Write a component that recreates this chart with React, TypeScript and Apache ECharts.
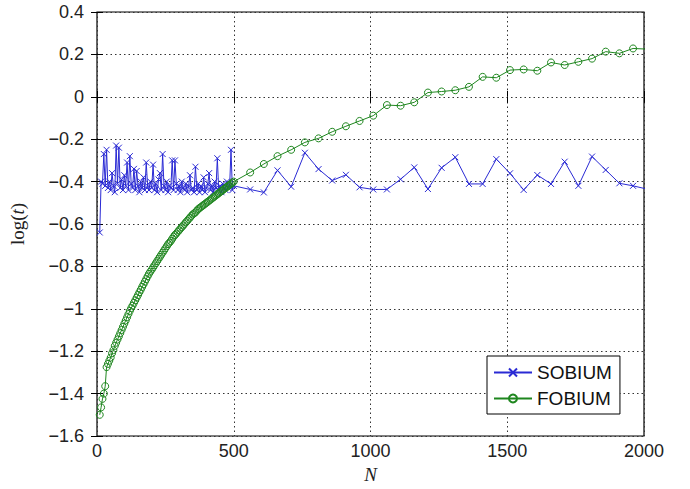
import React, { useEffect, useRef } from "react";
import * as echarts from "echarts";

const X_TICKS = [0, 500, 1000, 1500, 2000];
const Y_TICKS = [-1.6, -1.4, -1.2, -1, -0.8, -0.6, -0.4, -0.2, 0, 0.2, 0.4];

const N_DENSE = [
  10, 15, 20, 25, 30, 35, 40, 45, 50, 55,
  60, 65, 70, 75, 80, 85, 90, 95, 100, 105,
  110, 115, 120, 125, 130, 135, 140, 145, 150, 155,
  160, 165, 170, 175, 180, 185, 190, 195, 200, 205,
  210, 215, 220, 225, 230, 235, 240, 245, 250, 255,
  260, 265, 270, 275, 280, 285, 290, 295, 300, 305,
  310, 315, 320, 325, 330, 335, 340, 345, 350, 355,
  360, 365, 370, 375, 380, 385, 390, 395, 400, 405,
  410, 415, 420, 425, 430, 435, 440, 445, 450, 455,
  460, 465, 470, 475, 480, 485, 490, 495, 500];
const N_SPARSE = [560, 610, 660, 710, 760, 810, 860, 910, 960, 1010, 1060, 1110, 1160, 1210, 1260, 1310,
  1360, 1410, 1460, 1510, 1560, 1610, 1660, 1710, 1760, 1810, 1860, 1910, 1960, 2010];

const SOBIUM_DENSE = [
  -0.64, -0.40, -0.41, -0.27, -0.42, -0.25, -0.43, -0.40, -0.44, -0.36,
  -0.42, -0.45, -0.23, -0.41, -0.24, -0.43, -0.39, -0.44, -0.37, -0.42,
  -0.31, -0.44, -0.28, -0.41, -0.43, -0.34, -0.44, -0.35, -0.42, -0.45,
  -0.40, -0.43, -0.38, -0.44, -0.31, -0.42, -0.44, -0.40, -0.43, -0.32,
  -0.44, -0.41, -0.45, -0.39, -0.36, -0.44, -0.27, -0.42, -0.44, -0.40,
  -0.45, -0.42, -0.43, -0.30, -0.44, -0.30, -0.41, -0.44, -0.42, -0.45,
  -0.40, -0.43, -0.44, -0.41, -0.45, -0.42, -0.37, -0.44, -0.43, -0.45,
  -0.33, -0.44, -0.41, -0.45, -0.42, -0.44, -0.38, -0.45, -0.43, -0.41,
  -0.36, -0.44, -0.42, -0.45, -0.40, -0.43, -0.29, -0.44, -0.42, -0.45,
  -0.41, -0.43, -0.44, -0.40, -0.43, -0.42, -0.25, -0.44, -0.42];
const SOBIUM_SPARSE = [-0.437, -0.451, -0.347, -0.424, -0.264, -0.341, -0.395, -0.368, -0.427, -0.437,
  -0.437, -0.389, -0.333, -0.435, -0.335, -0.285, -0.411, -0.411, -0.294, -0.361,
  -0.439, -0.369, -0.411, -0.306, -0.420, -0.282, -0.345, -0.408, -0.420, -0.435];

const FOBIUM_DENSE = [
  -1.50, -1.465, -1.425, -1.40, -1.365, -1.275, -1.26, -1.245, -1.23, -1.21,
  -1.195, -1.175, -1.16, -1.145, -1.13, -1.115, -1.10, -1.085, -1.07, -1.055,
  -1.04, -1.025, -1.01, -0.997, -0.985, -0.972, -0.96, -0.947, -0.935, -0.922,
  -0.91, -0.897, -0.885, -0.872, -0.86, -0.847, -0.835, -0.825, -0.815, -0.805,
  -0.795, -0.785, -0.775, -0.765, -0.755, -0.745, -0.735, -0.725, -0.715, -0.705,
  -0.695, -0.688, -0.68, -0.67, -0.66, -0.652, -0.645, -0.637, -0.63, -0.622,
  -0.615, -0.607, -0.60, -0.592, -0.585, -0.577, -0.57, -0.562, -0.555, -0.55,
  -0.545, -0.537, -0.53, -0.525, -0.52, -0.515, -0.51, -0.505, -0.50, -0.495,
  -0.49, -0.485, -0.48, -0.475, -0.47, -0.465, -0.46, -0.455, -0.45, -0.445,
  -0.44, -0.435, -0.43, -0.425, -0.42, -0.415, -0.41, -0.405, -0.40];
const FOBIUM_SPARSE = [-0.357, -0.317, -0.28, -0.25, -0.215, -0.196, -0.165, -0.139, -0.114, -0.089,
  -0.039, -0.042, -0.026, 0.020, 0.025, 0.031, 0.047, 0.094, 0.090, 0.126,
  0.129, 0.123, 0.162, 0.150, 0.165, 0.180, 0.213, 0.205, 0.228, 0.225];

const BLUE = "#2a2ad4";
const GREEN = "#1e861e";
const SANS = "'Liberation Sans', Arial, Helvetica, sans-serif";
const SERIF = "'Liberation Serif', 'Times New Roman', serif";

export default function App() {
  const ref = useRef<HTMLDivElement>(null);
  useEffect(() => {
    if (!ref.current) return;
    const chart = echarts.init(ref.current, undefined, { renderer: "svg" });
    const sob = [
      ...N_DENSE.map((n, i) => [n, SOBIUM_DENSE[i]]),
      ...N_SPARSE.map((n, i) => [n, SOBIUM_SPARSE[i]]),
    ];
    const fob = [
      ...N_DENSE.map((n, i) => [n, FOBIUM_DENSE[i]]),
      ...N_SPARSE.map((n, i) => [n, FOBIUM_SPARSE[i]]),
    ];
    const fmtY = (v: number) => {
      const s = String(Number(v.toFixed(1)));
      return s.replace("-", "\u2212");
    };
    const fmtX = (v: number) => String(Math.round(v));
    const tickStyle = { show: true, inside: true, length: 6, lineStyle: { color: "#000", width: 1 } };
    const commonX = {
      min: X_TICKS[0],
      max: X_TICKS[X_TICKS.length - 1],
      interval: X_TICKS[1] - X_TICKS[0],
    };
    const commonY = {
      min: Y_TICKS[0],
      max: Y_TICKS[Y_TICKS.length - 1],
      interval: 0.2,
    };
    chart.setOption({
      animation: false,
      backgroundColor: "#fff",
      grid: {
        left: 95.5,
        right: 46,
        top: 12,
        bottom: 53,
        show: true,
        borderColor: "#000",
        borderWidth: 1.2,
        backgroundColor: "transparent",
      },
      legend: {
        orient: "vertical",
        left: 487,
        top: 356,
        padding: [7, 8, 6, 6],
        itemGap: 7,
        itemWidth: 38,
        itemHeight: 10,
        borderColor: "#000",
        borderWidth: 1,
        borderRadius: 0,
        backgroundColor: "#fff",
        textStyle: { fontFamily: SANS, fontSize: 19, color: "#111" },
        data: ["SOBIUM", "FOBIUM"],
      },
      xAxis: [
        {
          type: "value",
          ...commonX,
          position: "bottom",
          name: "N",
          nameLocation: "middle",
          nameGap: 25,
          nameTextStyle: { fontFamily: SERIF, fontStyle: "italic", fontSize: 19, color: "#222" },
          axisLine: { show: false },
          axisTick: tickStyle,
          axisLabel: { fontFamily: SANS, fontSize: 18, color: "#222", margin: 6, formatter: fmtX },
          splitLine: { show: true, lineStyle: { color: "#333", type: [1.5, 3], width: 1 } },
        },
        {
          type: "value",
          ...commonX,
          position: "top",
          axisLine: { show: false },
          axisTick: tickStyle,
          axisLabel: { show: false },
          splitLine: { show: false },
        },
      ],
      yAxis: [
        {
          type: "value",
          ...commonY,
          position: "left",
          name: "{a|log(}{b|t}{a|)}",
          nameLocation: "middle",
          nameGap: 70,
          nameRotate: 90,
          nameTextStyle: {
            rich: {
              a: { fontFamily: SERIF, fontSize: 19, color: "#222" },
              b: { fontFamily: SERIF, fontSize: 19, fontStyle: "italic", color: "#222" },
            },
          },
          axisLine: { show: false },
          axisTick: tickStyle,
          axisLabel: { fontFamily: SANS, fontSize: 18, color: "#222", margin: 13, formatter: fmtY },
          splitLine: { show: true, lineStyle: { color: "#333", type: [1.5, 3], width: 1 } },
        },
        {
          type: "value",
          ...commonY,
          position: "right",
          axisLine: { show: false },
          axisTick: tickStyle,
          axisLabel: { show: false },
          splitLine: { show: false },
        },
      ],
      series: [
        {
          name: "SOBIUM",
          type: "line",
          xAxisIndex: 0,
          yAxisIndex: 0,
          data: sob,
          clip: true,
          symbol: "path://M0,0L10,10M10,0L0,10",
          symbolSize: 6,
          showAllSymbol: true,
          lineStyle: { color: BLUE, width: 1 },
          itemStyle: { color: BLUE, borderColor: BLUE, borderWidth: 1 },
          z: 3,
        },
        {
          name: "FOBIUM",
          type: "line",
          xAxisIndex: 0,
          yAxisIndex: 0,
          data: fob,
          clip: true,
          symbol: "circle",
          symbolSize: 7,
          showAllSymbol: true,
          lineStyle: { color: GREEN, width: 1 },
          itemStyle: { color: "none", borderColor: GREEN, borderWidth: 1 },
          z: 4,
        },
      ],
    });
    return () => chart.dispose();
  }, []);
  return (
    <div
      ref={ref}
      style={{ position: "absolute", left: 0, top: 0, width: 690, height: 489, background: "#fff" }}
    />
  );
}
